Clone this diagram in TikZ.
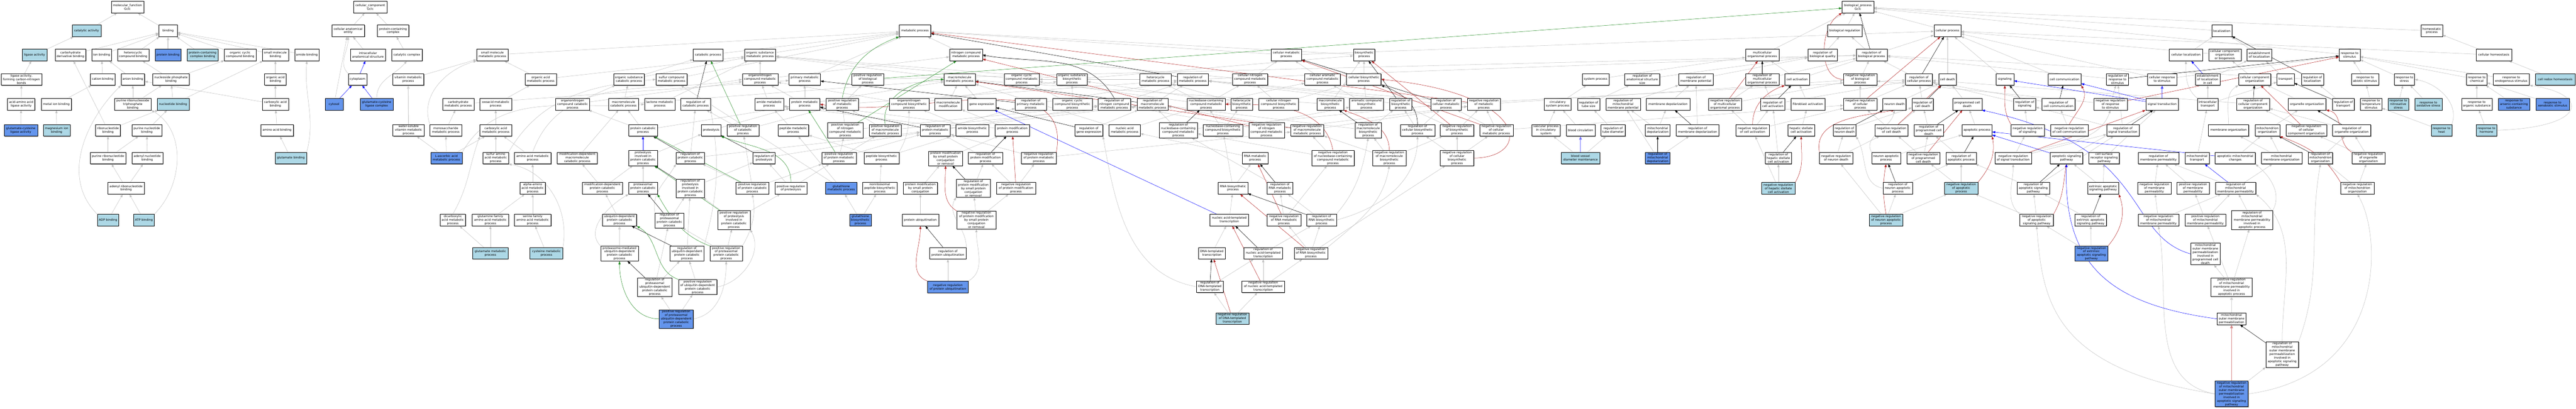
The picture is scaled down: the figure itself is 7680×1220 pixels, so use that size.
\documentclass[tikz,border=0pt]{standalone}
\usepackage{fontspec}
\setmainfont{DejaVu Sans}
\usetikzlibrary{arrows.meta,shadows,backgrounds}
\definecolor{lblue}{HTML}{ADD8E6}
\definecolor{cblue}{HTML}{6495ED}
\definecolor{egray}{HTML}{C0C0C0}
\definecolor{egreen}{HTML}{228B22}
\definecolor{ered}{HTML}{B22222}
\definecolor{eblue}{HTML}{0000FF}
\newcommand{\gnd}[6]{\node[#1,minimum width=#5pt] (#2) at (#3,#4) {#6};}
\begin{document}
\begin{tikzpicture}[x=1pt,y=-1pt,
 nbox/.style={draw=black,line width=0.7pt,fill=white,rectangle,align=center,inner xsep=1pt,inner ysep=2pt,minimum height=35pt,font=\fontsize{9}{10.7}\selectfont,drop shadow={shadow xshift=1.4pt,shadow yshift=-1.4pt,fill=gray!80,opacity=1}},
 nlb/.style={nbox,fill=lblue},
 ncb/.style={nbox,fill=cblue},
 edg/.style={draw=egray,line width=0.8pt,-{Triangle[length=9pt,width=6.5pt]}},
 edb/.style={draw=black,line width=0.8pt,-{Triangle[length=9pt,width=6.5pt]}},
 edgn/.style={draw=egreen,line width=0.8pt,-{Triangle[length=9pt,width=6.5pt]}},
 edr/.style={draw=ered,line width=0.8pt,-{Triangle[length=9pt,width=6.5pt]}},
 edu/.style={draw=eblue,line width=0.8pt,-{Triangle[length=9pt,width=6.5pt]}},
 edt/.style={draw=gray!35,line width=2.2pt,-{Triangle[length=10pt,width=8pt]}}]
\useasboundingbox (0,0) rectangle (7680,1220);
% ---------- molecular function
\gnd{nbox}{mf}{380}{21}{97}{molecular\_function\\Gclc}
\gnd{nlb}{catact}{258}{92}{86}{catalytic activity}
\gnd{nbox}{binding}{501}{92}{54}{binding}
\gnd{nlb}{ligase}{103}{164}{73}{ligase activity}
\gnd{nbox}{carbder}{210}{164}{92}{carbohydrate\\derivative binding}
\gnd{nbox}{ionb}{303}{164}{59}{ion binding}
\gnd{nbox}{hetcyc}{397}{164}{94}{heterocyclic\\compound binding}
\gnd{ncb}{protb}{501}{164}{78}{protein binding}
\gnd{nlb}{pccb}{604}{164}{93}{protein-containing\\complex binding}
\gnd{nbox}{orgcyc}{716}{164}{94}{organic cyclic\\compound binding}
\gnd{nbox}{smallmolb}{821}{164}{79}{small molecule\\binding}
\gnd{nbox}{amideb}{915}{164}{73}{amide binding}
\gnd{nbox}{ligcn}{64}{237}{122}{ligase activity,\\forming carbon-nitrogen\\bonds}
\gnd{nbox}{cationb}{306}{237}{73}{cation binding}
\gnd{nbox}{anionb}{396}{237}{70}{anion binding}
\gnd{nbox}{nucphos}{510}{237}{109}{nucleoside phosphate\\binding}
\gnd{nbox}{orgacidb}{821}{237}{64}{organic acid\\binding}
\gnd{nbox}{aaligase}{63}{311}{82}{acid-amino acid\\ligase activity}
\gnd{nbox}{metalion}{168}{311}{90}{metal ion binding}
\gnd{nbox}{purtri}{396}{311}{109}{purine ribonucleoside\\triphosphate\\binding}
\gnd{nlb}{nucb}{516}{311}{95}{nucleotide binding}
\gnd{nbox}{carboxb}{821}{311}{78}{carboxylic acid\\binding}
\gnd{ncb}{gcl}{62}{389}{100}{glutamate-cysteine\\ligase activity}
\gnd{nlb}{mgion}{169}{389}{80}{magnesium ion\\binding}
\gnd{nbox}{ribonucb}{322}{389}{74}{ribonucleotide\\binding}
\gnd{nbox}{purnucb}{438}{389}{88}{purine nucleotide\\binding}
\gnd{nbox}{aab}{826}{389}{98}{amino acid binding}
\gnd{nbox}{purribonuc}{322}{472}{107}{purine ribonucleotide\\binding}
\gnd{nbox}{adenylnuc}{439}{472}{92}{adenyl nucleotide\\binding}
\gnd{nlb}{glub}{867}{472}{94}{glutamate binding}
\gnd{nbox}{adenylribo}{376}{562}{109}{adenyl ribonucleotide\\binding}
\gnd{nlb}{adp}{322}{657}{64}{ADP binding}
\gnd{nlb}{atp}{429}{657}{62}{ATP binding}
% ---------- cellular component
\gnd{nbox}{cc}{1104}{21}{100}{cellular\_component\\Gclc}
\gnd{nbox}{cae}{1038}{92}{98}{cellular anatomical\\entity}
\gnd{nbox}{pcc}{1172}{92}{94}{protein-containing\\complex}
\gnd{nbox}{ias}{1097}{164}{105}{intracellular\\anatomical structure}
\gnd{nbox}{catcomplex}{1213}{164}{92}{catalytic complex}
\gnd{nbox}{cytoplasm}{1066}{237}{56}{cytoplasm}
\gnd{ncb}{cytosol}{996}{311}{54}{cytosol}
\gnd{ncb}{gclcomplex}{1123}{311}{99}{glutamate-cysteine\\ligase complex}
% ---------- biological process
\gnd{nbox}{vitmet}{1217}{237}{93}{vitamin metabolic\\process}
\gnd{nbox}{wsvit}{1218}{389}{93}{water-soluble\\vitamin metabolic\\process}
\gnd{nbox}{smp}{1468}{164}{94}{small molecule\\metabolic process}
\gnd{nbox}{orgacidmp}{1612}{237}{94}{organic acid\\metabolic process}
\gnd{nbox}{orgsubcat}{1875}{237}{92}{organic substance\\catabolic process}
\gnd{nbox}{carbmp}{1366}{311}{94}{carbohydrate\\metabolic process}
\gnd{nbox}{oxoacid}{1478}{311}{94}{oxoacid metabolic\\process}
\gnd{nbox}{orgnitcat}{1707}{311}{102}{organonitrogen\\compound catabolic\\process}
\gnd{nbox}{macrocat}{1859}{311}{88}{macromolecule\\catabolic process}
\gnd{nbox}{monosacch}{1329}{389}{94}{monosaccharide\\metabolic process}
\gnd{nbox}{carboxmp}{1478}{389}{94}{carboxylic acid\\metabolic process}
\gnd{nbox}{protcat}{1917}{389}{86}{protein catabolic\\process}
\gnd{ncb}{ascorbic}{1331}{472}{94}{L-ascorbic acid\\metabolic process}
\gnd{nbox}{sulfuraa}{1478}{472}{76}{sulfur amino\\acid metabolic\\process}
\gnd{nbox}{aamp}{1588}{472}{110}{amino acid metabolic\\process}
\gnd{nbox}{moddepmacro}{1721}{472}{120}{modification-dependent\\macromolecule\\catabolic process}
\gnd{nbox}{proteolysisinv}{1917}{472}{85}{proteolysis\\involved in\\protein catabolic\\process}
\gnd{nbox}{alphaaa}{1588}{562}{76}{alpha-amino\\acid metabolic\\process}
\gnd{nbox}{moddepprot}{1796}{562}{120}{modification-dependent\\protein catabolic\\process}
\gnd{nbox}{proteasomal}{1917}{562}{85}{proteasomal\\protein catabolic\\process}
\gnd{nbox}{dicarbox}{1350}{657}{76}{dicarboxylic\\acid metabolic\\process}
\gnd{nbox}{glnfam}{1462}{657}{109}{glutamine family\\amino acid metabolic\\process}
\gnd{nbox}{serfam}{1588}{657}{110}{serine family\\amino acid metabolic\\process}
\gnd{nbox}{ubiqdep}{1847}{657}{102}{ubiquitin-dependent\\protein catabolic\\process}
\gnd{nlb}{glump}{1462}{756}{106}{glutamate metabolic\\process}
\gnd{nlb}{cysmp}{1629}{756}{98}{cysteine metabolic\\process}
\gnd{nbox}{proteasomeubiq}{1847}{757}{112}{proteasome-mediated\\ubiquitin-dependent\\protein catabolic\\process}
\gnd{nbox}{regproteasomalubiq}{1952}{857}{103}{regulation of\\proteasomal\\ubiquitin-dependent\\protein catabolic\\process}
\gnd{nbox}{catproc}{2111}{164}{88}{catabolic process}
\gnd{nbox}{orgsubmp}{2266}{164}{93}{organic substance\\metabolic process}
\gnd{nbox}{sulfurcomp}{2002}{237}{93}{sulfur compound\\metabolic process}
\gnd{nbox}{orgnitmp}{2266}{237}{106}{organonitrogen\\compound metabolic\\process}
\gnd{nbox}{primmp}{2399}{237}{94}{primary metabolic\\process}
\gnd{nbox}{posregbioproc}{2587}{237}{95}{positive regulation\\of biological\\process}
\gnd{nbox}{lactone}{1967}{311}{91}{lactone metabolic\\process}
\gnd{nbox}{regcat}{2074}{311}{89}{regulation of\\catabolic process}
\gnd{nbox}{amidemp}{2293}{311}{86}{amide metabolic\\process}
\gnd{nbox}{protmp}{2399}{311}{90}{protein metabolic\\process}
\gnd{nbox}{posregmp}{2511}{311}{96}{positive regulation\\of metabolic\\process}
\gnd{nbox}{proteolysis}{2120}{389}{58}{proteolysis}
\gnd{nbox}{posregcat}{2215}{389}{96}{positive regulation\\of catabolic\\process}
\gnd{nbox}{peptidemp}{2365}{389}{92}{peptide metabolic\\process}
\gnd{nbox}{posregnitro}{2520}{389}{106}{positive regulation\\of nitrogen\\compound metabolic\\process}
\gnd{nbox}{regprotcat}{2058}{472}{85}{regulation of\\protein catabolic\\process}
\gnd{nbox}{regproteolysis}{2278}{472}{66}{regulation of\\proteolysis}
\gnd{nbox}{posregprotmp}{2501}{472}{103}{positive regulation\\of protein metabolic\\process}
\gnd{nbox}{regproteolysisinv}{2058}{562}{85}{regulation of\\proteolysis\\involved in\\protein catabolic\\process}
\gnd{nbox}{posregprotcat}{2243}{562}{98}{positive regulation\\of protein catabolic\\process}
\gnd{nbox}{posregproteolysis}{2358}{562}{96}{positive regulation\\of proteolysis}
\gnd{ncb}{glutathmp}{2508}{562}{93}{glutathione\\metabolic process}
\gnd{nbox}{regproteasomal}{1996}{658}{86}{regulation of\\proteasomal\\protein catabolic\\process}
\gnd{nbox}{posregproteolysisinv}{2188}{657}{96}{positive regulation\\of proteolysis\\involved in\\protein catabolic\\process}
\gnd{ncb}{glutathbio}{2565}{657}{64}{glutathione\\biosynthetic\\process}
\gnd{nbox}{regubiq}{2048}{757}{102}{regulation of\\ubiquitin-dependent\\protein catabolic\\process}
\gnd{nbox}{posregproteasomal}{2165}{757}{96}{positive regulation\\of proteasomal\\protein catabolic\\process}
\gnd{nbox}{posregubiq}{2080}{857}{115}{positive regulation\\of ubiquitin-dependent\\protein catabolic\\process}
\gnd{ncb}{posregproteasomalubiq}{2016}{952}{102}{positive regulation\\of proteasomal\\ubiquitin-dependent\\protein catabolic\\process}
\gnd{nbox}{metproc}{2728}{92}{94}{metabolic process}
\gnd{nbox}{nitcomp}{2880}{164}{98}{nitrogen compound\\metabolic process}
\gnd{nbox}{macromp}{2861}{237}{93}{macromolecule\\metabolic process}
\gnd{nbox}{orgcycmp}{3046}{237}{105}{organic cyclic\\compound metabolic\\process}
\gnd{nbox}{orgsubbio}{3196}{237}{91}{organic substance\\biosynthetic\\process}
\gnd{nbox}{orgnitbio}{2710}{311}{118}{organonitrogen\\compound biosynthetic\\process}
\gnd{nbox}{macromod}{2827}{311}{80}{macromolecule\\modification}
\gnd{nbox}{geneexp}{2927}{311}{84}{gene expression}
\gnd{nbox}{regprimmp}{3073}{311}{93}{regulation of\\primary metabolic\\process}
\gnd{nbox}{orgcycbio}{3197}{311}{118}{organic cyclic\\compound biosynthetic\\process}
\gnd{nbox}{posregmacro}{2639}{389}{95}{positive regulation\\of macromolecule\\metabolic process}
\gnd{nbox}{regprotmp}{2788}{389}{90}{regulation of\\protein metabolic\\process}
\gnd{nbox}{amidebio}{2899}{389}{98}{amide biosynthetic\\process}
\gnd{nbox}{protmod}{3018}{389}{102}{protein modification\\process}
\gnd{nbox}{peptidebio}{2628}{472}{104}{peptide biosynthetic\\process}
\gnd{nbox}{protmodsmall}{2819}{473}{102}{protein modification\\by small protein\\conjugation\\or removal}
\gnd{nbox}{regprotmod}{2938}{472}{102}{regulation of\\protein modification\\process}
\gnd{nbox}{negregprotmp}{3097}{472}{104}{negative regulation\\of protein metabolic\\process}
\gnd{nbox}{nonribo}{2623}{562}{104}{nonribosomal\\peptide biosynthetic\\process}
\gnd{nbox}{protmodsmallconj}{2744}{562}{102}{protein modification\\by small protein\\conjugation}
\gnd{nbox}{regprotmodsmall}{2902}{562}{102}{regulation of\\protein modification\\by small protein\\conjugation\\or removal}
\gnd{nbox}{negregprotmod}{3029}{562}{116}{negative regulation\\of protein modification\\process}
\gnd{nbox}{protubiq}{2744}{657}{109}{protein ubiquitination}
\gnd{nbox}{negregprotmodsmall}{2911}{657}{116}{negative regulation\\of protein modification\\by small protein\\conjugation\\or removal}
\gnd{nbox}{regprotubiq}{2826}{756}{109}{regulation of\\protein ubiquitination}
\gnd{ncb}{negregprotubiq}{2826}{857}{121}{negative regulation\\of protein ubiquitination}
\gnd{nbox}{cellmp}{3835}{164}{91}{cellular metabolic\\process}
\gnd{nbox}{heteromp}{3445}{237}{93}{heterocycle\\metabolic process}
\gnd{nbox}{regmp}{3556}{237}{93}{regulation of\\metabolic process}
\gnd{nbox}{cellnitmp}{3727}{237}{105}{cellular nitrogen\\compound metabolic\\process}
\gnd{nbox}{regnitmp}{3322}{311}{98}{regulation of\\nitrogen compound\\metabolic process}
\gnd{nbox}{regmacromp}{3436}{311}{93}{regulation of\\macromolecule\\metabolic process}
\gnd{nbox}{nucleobasemp}{3596}{311}{113}{nucleobase-containing\\compound metabolic\\process}
\gnd{nbox}{heterobio}{3702}{311}{64}{heterocycle\\biosynthetic\\process}
\gnd{nbox}{cellnitbio}{3812}{311}{118}{cellular nitrogen\\compound biosynthetic\\process}
\gnd{nbox}{reggeneexp}{3246}{389}{84}{regulation of\\gene expression}
\gnd{nbox}{nucacidmp}{3353}{389}{93}{nucleic acid\\metabolic process}
\gnd{nbox}{regnucleobase}{3513}{389}{113}{regulation of\\nucleobase-containing\\compound metabolic\\process}
\gnd{nbox}{nucleobasebio}{3646}{389}{118}{nucleobase-containing\\compound biosynthetic\\process}
\gnd{nbox}{negregnit}{3776}{389}{106}{negative regulation\\of nitrogen\\compound metabolic\\process}
\gnd{nbox}{rnamp}{3742}{472}{76}{RNA metabolic\\process}
\gnd{nbox}{rnabio}{3676}{562}{88}{RNA biosynthetic\\process}
\gnd{nbox}{regrnamp}{3816}{562}{76}{regulation of\\RNA metabolic\\process}
\gnd{nbox}{nucacidtrans}{3665}{657}{115}{nucleic acid-templated\\transcription}
\gnd{nbox}{negregrnamp}{3828}{657}{100}{negative regulation\\of RNA metabolic\\process}
\gnd{nbox}{dnatrans}{3613}{756}{79}{DNA-templated\\transcription}
\gnd{nbox}{regnucacidtrans}{3766}{756}{115}{regulation of\\nucleic acid-templated\\transcription}
\gnd{nbox}{regdnatrans}{3607}{856}{79}{regulation of\\DNA-templated\\transcription}
\gnd{nbox}{negregnucacidtrans}{3766}{856}{127}{negative regulation\\of nucleic acid-templated\\transcription}
\gnd{nlb}{negregdnatrans}{3674}{951}{99}{negative regulation\\of DNA-templated\\transcription}
\gnd{nbox}{bioproc}{4067}{164}{64}{biosynthetic\\process}
\gnd{nbox}{cellaromatic}{3943}{237}{106}{cellular aromatic\\compound metabolic\\process}
\gnd{nbox}{cellbio}{4066}{237}{103}{cellular biosynthetic\\process}
\gnd{nbox}{macrobio}{3966}{311}{79}{macromolecule\\biosynthetic\\process}
\gnd{nbox}{aromaticbio}{4074}{311}{101}{aromatic compound\\biosynthetic\\process}
\gnd{nbox}{regbio}{4176}{311}{66}{regulation of\\biosynthetic\\process}
\gnd{nbox}{regcellmp}{4311}{311}{91}{regulation of\\cellular metabolic\\process}
\gnd{nbox}{negregmp}{4424}{311}{99}{negative regulation\\of metabolic\\process}
\gnd{nbox}{negregmacromp}{3897}{389}{99}{negative regulation\\of macromolecule\\metabolic process}
\gnd{nbox}{regmacrobio}{4079}{389}{79}{regulation of\\macromolecule\\biosynthetic\\process}
\gnd{nbox}{regcellbio}{4226}{389}{103}{regulation of\\cellular biosynthetic\\process}
\gnd{nbox}{negregbio}{4344}{389}{100}{negative regulation\\of biosynthetic\\process}
\gnd{nbox}{negregcellmp}{4461}{389}{100}{negative regulation\\of cellular\\metabolic process}
\gnd{nbox}{negregnucleobase}{3974}{472}{127}{negative regulation\\of nucleobase-containing\\compound metabolic\\process}
\gnd{nbox}{negregmacrobio}{4142}{472}{99}{negative regulation\\of macromolecule\\biosynthetic\\process}
\gnd{nbox}{negregcellbio}{4344}{472}{100}{negative regulation\\of cellular\\biosynthetic\\process}
\gnd{nbox}{regrnabio}{3940}{657}{88}{regulation of\\RNA biosynthetic\\process}
\gnd{nbox}{negregrnabio}{3908}{756}{100}{negative regulation\\of RNA biosynthetic\\process}
\gnd{nbox}{sysproc}{4757}{237}{80}{system process}
\gnd{nbox}{reganatsize}{4896}{237}{105}{regulation of\\anatomical structure\\size}
\gnd{nbox}{regmembpot}{5056}{237}{103}{regulation of\\membrane potential}
\gnd{nbox}{circsys}{4644}{311}{80}{circulatory\\system process}
\gnd{nbox}{regtubesize}{4736}{311}{66}{regulation of\\tube size}
\gnd{nbox}{regmitomembpot}{4839}{311}{103}{regulation of\\mitochondrial\\membrane potential}
\gnd{nbox}{membdepol}{4973}{311}{130}{membrane depolarization}
\gnd{nbox}{negregmulti}{5143}{311}{99}{negative regulation\\of multicellular\\organismal process}
\gnd{nbox}{vascular}{4609}{389}{85}{vascular process\\in circulatory\\system}
\gnd{nbox}{bloodcirc}{4712}{389}{86}{blood circulation}
\gnd{nbox}{regtubediam}{4809}{389}{73}{regulation of\\tube diameter}
\gnd{nbox}{mitodepol}{4942}{389}{74}{mitochondrial\\depolarization}
\gnd{nbox}{regmembdepol}{5061}{389}{127}{regulation of\\membrane depolarization}
\gnd{nlb}{bvdm}{4712}{472}{115}{blood vessel\\diameter maintenance}
\gnd{ncb}{regmitodepol}{4942}{472}{74}{regulation of\\mitochondrial\\depolarization}
\gnd{nbox}{bp}{5539}{21}{94}{biological\_process\\Gclc}
\gnd{nbox}{bioreg}{5500}{92}{103}{biological regulation}
\gnd{nbox}{multiorg}{5254}{164}{100}{multicellular\\organismal process}
\gnd{nbox}{regbioqual}{5434}{164}{88}{regulation of\\biological quality}
\gnd{nbox}{regbioproc}{5580}{164}{92}{regulation of\\biological process}
\gnd{nbox}{regmulti}{5254}{237}{100}{regulation of\\multicellular\\organismal process}
\gnd{nbox}{cellact}{5358}{237}{73}{cell activation}
\gnd{nbox}{negregbioproc}{5546}{237}{100}{negative regulation\\of biological\\process}
\gnd{nbox}{regcellproc}{5721}{237}{80}{regulation of\\cellular process}
\gnd{nbox}{regcellact}{5285}{311}{73}{regulation of\\cell activation}
\gnd{nbox}{fibroact}{5390}{311}{101}{fibroblast activation}
\gnd{nbox}{negregcellproc}{5546}{311}{100}{negative regulation\\of cellular\\process}
\gnd{nbox}{neurondeath}{5648}{311}{69}{neuron death}
\gnd{nbox}{regcelldeath}{5732}{311}{64}{regulation of\\cell death}
\gnd{nbox}{negregcellact}{5225}{389}{99}{negative regulation\\of cell activation}
\gnd{nbox}{hsc}{5370}{389}{79}{hepatic stellate\\cell activation}
\gnd{nbox}{regneurondeath}{5499}{389}{68}{regulation of\\neuron death}
\gnd{nbox}{negregcelldeath}{5639}{389}{99}{negative regulation\\of cell death}
\gnd{nbox}{regpcd}{5750}{389}{87}{regulation of\\programmed cell\\death}
\gnd{nbox}{reghsc}{5302}{472}{79}{regulation of\\hepatic stellate\\cell activation}
\gnd{nbox}{negregneurondeath}{5474}{472}{99}{negative regulation\\of neuron death}
\gnd{nbox}{neuronapop}{5623}{472}{86}{neuron apoptotic\\process}
\gnd{nbox}{negregpcd}{5734}{472}{99}{negative regulation\\of programmed\\cell death}
\gnd{nlb}{negreghsc}{5302}{562}{100}{negative regulation\\of hepatic stellate\\cell activation}
\gnd{nbox}{regneuronapop}{5658}{562}{87}{regulation of\\neuron apoptotic\\process}
\gnd{nlb}{negregneuronapop}{5623}{657}{99}{negative regulation\\of neuron apoptotic\\process}
\gnd{nbox}{cellproc}{5806}{92}{80}{cellular process}
\gnd{nbox}{celldeath}{5806}{237}{53}{cell death}
\gnd{nbox}{signaling}{5977}{237}{54}{signaling}
\gnd{nbox}{cellcomm}{6155}{237}{99}{cell communication}
\gnd{nbox}{regresp}{6313}{237}{66}{regulation of\\response to\\stimulus}
\gnd{nbox}{pcd}{5865}{311}{87}{programmed cell\\death}
\gnd{nbox}{regsignaling}{6036}{311}{66}{regulation of\\signaling}
\gnd{nbox}{regcellcomm}{6137}{311}{99}{regulation of\\cell communication}
\gnd{nbox}{negregresp}{6292}{311}{100}{negative regulation\\of response\\to stimulus}
\gnd{nbox}{signaltrans}{6446}{311}{98}{signal transduction}
\gnd{nbox}{apop}{5894}{389}{90}{apoptotic process}
\gnd{nbox}{negregsignaling}{6045}{389}{99}{negative regulation\\of signaling}
\gnd{nbox}{negregcellcomm}{6169}{389}{112}{negative regulation\\of cell communication}
\gnd{nbox}{regsignaltrans}{6329}{389}{97}{regulation of\\signal transduction}
\gnd{nbox}{regapop}{5847}{472}{91}{regulation of\\apoptotic process}
\gnd{nbox}{negregsignaltrans}{6002}{472}{109}{negative regulation\\of signal transduction}
\gnd{nbox}{apopsig}{6161}{472}{97}{apoptotic signaling\\pathway}
\gnd{nbox}{cellsurface}{6273}{472}{91}{cell surface\\receptor signaling\\pathway}
\gnd{nbox}{regmembperm}{6435}{472}{122}{regulation of\\membrane permeability}
\gnd{nlb}{negregapop}{5847}{562}{99}{negative regulation\\of apoptotic\\process}
\gnd{nbox}{regapopsig}{6062}{562}{97}{regulation of\\apoptotic signaling\\pathway}
\gnd{nbox}{extapop}{6270}{562}{93}{extrinsic apoptotic\\signaling pathway}
\gnd{nbox}{negregmembperm}{6423}{562}{100}{negative regulation\\of membrane\\permeability}
\gnd{nbox}{negregapopsig}{6072}{657}{100}{negative regulation\\of apoptotic\\signaling pathway}
\gnd{nbox}{regextapop}{6233}{657}{94}{regulation of\\extrinsic apoptotic\\signaling pathway}
\gnd{nbox}{negregmitomembperm}{6435}{657}{122}{negative regulation\\of mitochondrial\\membrane permeability}
\gnd{ncb}{negregextapop}{6235}{757}{99}{negative regulation\\of extrinsic\\apoptotic signaling\\pathway}
\gnd{nbox}{localization}{6624}{92}{60}{localization}
\gnd{nbox}{cellloc}{6517}{164}{100}{cellular localization}
\gnd{nbox}{ccob}{6633}{164}{97}{cellular component\\organization\\or biogenesis}
\gnd{nbox}{estloc}{6736}{164}{73}{establishment\\of localization}
\gnd{nbox}{respstim}{7005}{164}{62}{response to\\stimulus}
\gnd{nbox}{cellresp}{6446}{237}{87}{cellular response\\to stimulus}
\gnd{nbox}{estlocincell}{6582}{237}{73}{establishment\\of localization\\in cell}
\gnd{nbox}{cco}{6722}{237}{96}{cellular component\\organization}
\gnd{nbox}{transport}{6814}{237}{51}{transport}
\gnd{nbox}{regloc}{6894}{237}{66}{regulation of\\localization}
\gnd{nbox}{respabiotic}{7051}{237}{82}{response to\\abiotic stimulus}
\gnd{nbox}{intratrans}{6582}{311}{62}{intracellular\\transport}
\gnd{nbox}{regcco}{6717}{311}{98}{regulation of\\cellular component\\organization}
\gnd{nbox}{organelle}{6878}{311}{113}{organelle organization}
\gnd{nbox}{regtransport}{6986}{311}{66}{regulation of\\transport}
\gnd{nbox}{resptemp}{7069}{311}{64}{response to\\temperature\\stimulus}
\gnd{nbox}{membraneorg}{6644}{389}{120}{membrane organization}
\gnd{nbox}{mitoorg}{6760}{389}{73}{mitochondrion\\organization}
\gnd{nbox}{negregcco}{6876}{389}{122}{negative regulation\\of cellular\\component organization}
\gnd{nbox}{regorganelle}{7011}{389}{114}{regulation of\\organelle organization}
\gnd{nbox}{mitotransport}{6550}{472}{72}{mitochondrial\\transport}
\gnd{nbox}{apopmito}{6664}{472}{120}{apoptotic mitochondrial\\changes}
\gnd{nbox}{mitomembrane}{6802}{472}{121}{mitochondrial\\membrane organization}
\gnd{nbox}{regmitoorg}{6918}{472}{73}{regulation of\\mitochondrion\\organization}
\gnd{nbox}{negregorganelle}{7061}{472}{99}{negative regulation\\of organelle\\organization}
\gnd{nbox}{posregmembperm}{6538}{562}{96}{positive regulation\\of membrane\\permeability}
\gnd{nbox}{regmitomembperm}{6665}{562}{121}{regulation of\\mitochondrial\\membrane permeability}
\gnd{nbox}{negregmitoorg}{7028}{562}{100}{negative regulation\\of mitochondrion\\organization}
\gnd{nbox}{posregmitomembperm}{6575}{657}{121}{positive regulation\\of mitochondrial\\membrane permeability}
\gnd{nbox}{regmitomembpermapop}{6714}{657}{122}{regulation of\\mitochondrial\\membrane permeability\\involved in\\apoptotic process}
\gnd{nbox}{mompcd}{6575}{758}{88}{mitochondrial\\outer membrane\\permeabilization\\involved in\\programmed cell\\death}
\gnd{nbox}{posregmitomembpermapop}{6653}{857}{122}{positive regulation\\of mitochondrial\\membrane permeability\\involved in\\apoptotic process}
\gnd{nbox}{momp}{6653}{952}{86}{mitochondrial\\outer membrane\\permeabilization}
\gnd{nbox}{regmomp}{6804}{1058}{98}{regulation of\\mitochondrial\\outer membrane\\permeabilization\\involved in\\apoptotic signaling\\pathway}
\gnd{ncb}{negregmomp}{6653}{1176}{99}{negative regulation\\of mitochondrial\\outer membrane\\permeabilization\\involved in\\apoptotic signaling\\pathway}
\gnd{nbox}{homeo}{7250}{92}{64}{homeostatic\\process}
\gnd{nbox}{cellhomeo}{7435}{164}{106}{cellular homeostasis}
\gnd{nbox}{respstress}{7168}{237}{61}{response to\\stress}
\gnd{nbox}{respchem}{7384}{237}{61}{response to\\chemical}
\gnd{nbox}{respendo}{7487}{237}{108}{response to\\endogenous stimulus}
\gnd{nlb}{redox}{7618}{237}{117}{cell redox homeostasis}
\gnd{nlb}{respnitro}{7150}{311}{61}{response to\\nitrosative\\stress}
\gnd{nlb}{respox}{7240}{311}{82}{response to\\oxidative stress}
\gnd{nbox}{resporg}{7384}{311}{91}{response to\\organic substance}
\gnd{ncb}{resparsenic}{7495}{311}{94}{response to\\arsenic-containing\\substance}
\gnd{ncb}{respxeno}{7610}{311}{100}{response to\\xenobiotic stimulus}
\gnd{nlb}{respheat}{7279}{389}{61}{response to\\heat}
\gnd{nlb}{resphormone}{7413}{389}{62}{response to\\hormone}
% ================= edges
\begin{pgfonlayer}{background}
\fill[white] (0,0) rectangle (7680,1220);
\foreach \a/\b in {catact/mf, binding/mf, ligase/catact, carbder/binding, ionb/binding, hetcyc/binding, pccb/binding, orgcyc/binding, smallmolb/binding, amideb/binding, ligcn/ligase, cationb/ionb, anionb/ionb, nucphos/hetcyc, nucphos/orgcyc, nucb/nucphos, nucb/smallmolb, aaligase/ligcn, metalion/cationb, purtri/anionb, purtri/nucphos, gcl/aaligase, mgion/metalion, ribonucb/carbder, ribonucb/nucb, purnucb/nucb, purribonuc/ribonucb, purribonuc/purnucb, adenylnuc/purnucb, adenylribo/purribonuc, adenylribo/adenylnuc, adp/adenylribo, atp/adenylribo, carboxb/anionb, orgacidb/smallmolb, carboxb/orgacidb, aab/carboxb, glub/aab,
cae/cc, pcc/cc, ias/cae, catcomplex/pcc, cytosol/cae,
vitmet/smp, ascorbic/wsvit, smp/metproc, orgacidmp/smp, carbmp/primmp, oxoacid/orgacidmp, carboxmp/oxoacid, monosacch/carbmp, ascorbic/monosacch, ascorbic/carboxmp, sulfuraa/carboxmp, aamp/carboxmp, alphaaa/aamp, glnfam/alphaaa, serfam/alphaaa, glump/dicarbox, glump/glnfam, cysmp/serfam, orgnitcat/orgsubcat, orgnitcat/orgnitmp, macrocat/orgsubcat, macrocat/macromp, moddepmacro/macrocat, moddepprot/moddepmacro, moddepprot/proteolysisinv, protcat/macrocat, protcat/orgnitcat, protcat/protmp, proteolysisinv/proteolysis, proteasomal/proteolysisinv, ubiqdep/moddepprot, orgsubcat/catproc, orgsubcat/orgsubmp, sulfurcomp/metproc, lactone/orgsubmp, orgacidmp/orgsubmp,
catproc/metproc, orgsubmp/metproc, primmp/metproc, nitcomp/metproc, bioproc/metproc, cellmp/metproc, orgnitmp/orgsubmp, orgnitmp/nitcomp, protmp/primmp, protmp/orgnitmp, protmp/macromp, amidemp/orgnitmp, peptidemp/amidemp, proteolysis/protmp, posregcat/regcat, posregcat/posregmp, posregbioproc/regbioproc, posregmp/regmp, posregmp/posregbioproc, posregnitro/posregmp, posregnitro/regnitmp, posregprotmp/regprotmp, posregprotmp/posregmacro, posregprotmp/posregnitro, posregmacro/posregmp, posregmacro/regmacromp, regproteolysis/regprotmp, posregproteolysis/regproteolysis, posregproteolysis/posregprotmp, regprotcat/regcat, regprotcat/regprotmp, posregprotcat/posregcat, posregprotcat/regprotcat, posregprotcat/posregprotmp, regproteolysisinv/regproteolysis, posregproteolysisinv/regproteolysisinv, posregproteolysisinv/posregproteolysis, regproteasomal/regproteolysisinv, posregproteasomal/regproteasomal, posregproteasomal/posregproteolysisinv, regubiq/regproteolysisinv, regproteasomalubiq/regproteasomal, regproteasomalubiq/regubiq, posregubiq/regubiq, posregproteasomalubiq/regproteasomalubiq, posregproteasomalubiq/posregubiq, glutathbio/glutathmp, glutathbio/nonribo, glutathmp/peptidemp, glutathmp/sulfurcomp,
macromp/orgsubmp, orgcycmp/orgsubmp, orgsubbio/orgsubmp, orgsubbio/bioproc, orgnitbio/orgnitmp, orgnitbio/orgsubbio, macromod/macromp, geneexp/macromp, regprimmp/regmp, amidebio/amidemp, amidebio/orgnitbio, protmod/macromod, protmod/protmp, peptidebio/peptidemp, peptidebio/amidebio, protmodsmall/protmod, regprotmod/regprotmp, negregprotmp/regprotmp, negregprotmp/negregmacromp, regprotmp/regmacromp, regprotmp/regprimmp, regprotmp/regnitmp, nonribo/peptidebio, protmodsmallconj/protmodsmall, regprotmodsmall/regprotmod, negregprotmod/regprotmod, negregprotmod/negregprotmp, protubiq/protmodsmallconj, negregprotmodsmall/regprotmodsmall, negregprotmodsmall/negregprotmod, negregprotubiq/regprotubiq,
cellmp/cellproc, heteromp/orgcycmp, cellnitmp/nitcomp, cellnitmp/cellmp, regmp/regbioproc, regnitmp/regmp, regmacromp/regmp, nucleobasemp/heteromp, nucleobasemp/cellnitmp, nucleobasemp/cellaromatic, nucleobasemp/orgcycmp, heterobio/heteromp, heterobio/orgsubbio, cellnitbio/cellnitmp, cellnitbio/cellbio, orgcycbio/orgcycmp, orgcycbio/orgsubbio, reggeneexp/regmacromp, nucacidmp/nucleobasemp, nucacidmp/macromp, regnucleobase/regcellmp, regnucleobase/regmacromp, nucleobasebio/nucleobasemp, nucleobasebio/heterobio, nucleobasebio/aromaticbio, negregnit/regnitmp, negregnit/negregmp, rnamp/nucacidmp, rnabio/rnamp, rnabio/nucleobasebio, regrnamp/regnucleobase, negregrnamp/regrnamp, negregrnamp/negregnucleobase, nucacidtrans/rnabio, dnatrans/nucacidtrans, regnucacidtrans/regrnabio, regdnatrans/regnucacidtrans, negregnucacidtrans/regnucacidtrans, negregnucacidtrans/negregrnabio, negregdnatrans/regdnatrans, negregdnatrans/negregnucacidtrans,
cellbio/bioproc, cellbio/cellmp, cellaromatic/cellmp, macrobio/bioproc, macrobio/macromp, aromaticbio/cellaromatic, aromaticbio/cellbio, regbio/regmp, regcellmp/regmp, regcellmp/regcellproc, negregmp/regmp, negregmp/negregbioproc, negregmacromp/regmacromp, negregmacromp/negregmp, regmacrobio/regbio, regmacrobio/regmacromp, regcellbio/regbio, regcellbio/regcellmp, negregbio/regbio, negregbio/negregmp, negregcellmp/regcellmp, negregcellmp/negregmp, negregcellmp/negregcellproc, negregnucleobase/regnucleobase, negregnucleobase/negregmacromp, negregmacrobio/regmacrobio, negregmacrobio/negregbio, negregmacrobio/negregmacromp, negregcellbio/negregbio, negregcellbio/regcellbio, negregcellbio/negregcellmp, regrnabio/regrnamp, negregrnabio/regrnabio, negregrnabio/negregrnamp, negregrnabio/negregcellbio,
sysproc/multiorg, reganatsize/regbioqual, regmembpot/regbioqual, circsys/sysproc, regtubesize/reganatsize, regmitomembpot/regmembpot, membdepol/regmembpot, negregmulti/regmulti, negregmulti/negregbioproc, vascular/circsys, bloodcirc/circsys, regtubediam/regtubesize, mitodepol/regmitomembpot, mitodepol/membdepol, regmembdepol/regmembpot, bvdm/vascular, bvdm/regtubediam, regmitodepol/regmitomembpot, regmitodepol/regmembdepol,
bioreg/bp, multiorg/bp, regbioqual/bioreg, regbioproc/bioreg, negregbioproc/regbioproc, regmulti/regbioproc, cellact/multiorg, cellact/cellproc, negregcellproc/negregbioproc, negregcellproc/regcellproc, regcellproc/regbioproc, neurondeath/celldeath, regcelldeath/regcellproc, regcellact/regcellproc, regcellact/regmulti, fibroact/cellact, negregcellact/regcellact, negregcellact/negregmulti, negregcellact/negregcellproc, hsc/fibroact, regneurondeath/regcelldeath, negregcelldeath/regcelldeath, negregcelldeath/negregcellproc, regpcd/regcelldeath, reghsc/regcellact, negregneurondeath/regneurondeath, negregneurondeath/negregcelldeath, neuronapop/apop, negregpcd/regpcd, negregpcd/negregcelldeath, negreghsc/reghsc, negreghsc/negregcellact, regneuronapop/regapop, negregneuronapop/regneuronapop, negregneuronapop/negregneurondeath, negregneuronapop/negregapop,
cellproc/bp, celldeath/cellproc, pcd/celldeath, apop/pcd, regapop/regpcd, negregapop/regapop, negregapop/negregpcd, signaling/cellproc, cellcomm/cellproc, regsignaling/regcellproc, regcellcomm/regcellproc, negregsignaling/regsignaling, negregcellcomm/regcellcomm, regresp/regbioproc, negregresp/regresp, negregresp/negregbioproc, regsignaltrans/regsignaling, regsignaltrans/regresp, negregsignaltrans/regsignaltrans, negregsignaltrans/negregsignaling, apopsig/signaltrans, regapopsig/regapop, regapopsig/regsignaltrans, negregapopsig/regapopsig, negregapopsig/negregapop, cellsurface/signaltrans, extapop/apopsig, extapop/cellsurface, regextapop/regapopsig, negregextapop/regextapop, negregextapop/negregapopsig,
localization/bp, cellloc/localization, estloc/localization, ccob/cellproc, cellresp/respstim, cellresp/cellproc, estlocincell/estloc, cco/ccob, transport/estloc, regloc/regbioproc, intratrans/estlocincell, intratrans/transport, regcco/regcellproc, organelle/cco, regtransport/regloc, mitoorg/organelle, negregcco/regcco, regorganelle/regcco, mitotransport/intratrans, apopmito/mitoorg, mitomembrane/membraneorg, mitomembrane/mitoorg, regmitoorg/regorganelle, negregorganelle/regorganelle, negregorganelle/negregcco, posregmembperm/regmembperm, regmitomembperm/regmembperm, regmitomembperm/mitomembrane, negregmitoorg/regmitoorg, negregmitoorg/negregorganelle, negregmembperm/regmembperm, negregmitomembperm/negregmembperm, negregmitomembperm/regmitomembperm, posregmitomembperm/posregmembperm, posregmitomembperm/regmitomembperm, regmitomembpermapop/regmitomembperm, posregmitomembpermapop/mompcd, posregmitomembpermapop/regmitomembpermapop, posregmitomembpermapop/posregmitomembperm, negregmomp/regmomp,
homeo/bp, cellhomeo/homeo, cellhomeo/cellproc, redox/cellhomeo, respstress/respstim, respchem/respstim, respendo/respstim, respabiotic/respstim, resptemp/respabiotic, respnitro/respstress, respox/respstress, respheat/resptemp, resporg/respchem, resparsenic/respchem, respxeno/respchem, resphormone/resporg, respstim/bp}
 {\draw[edg] (\a) -- (\b);}
% curved gray
\draw[edg] (adp.north west) to[out=135,in=-135] (anionb.south west);
\draw[edg] (atp.north east) to[out=45,in=-30] (purtri.south east);
\draw[edg] (glub.north east) to[out=75,in=-95] (amideb.south);
\draw[edg] (cytoplasm.north west) to[out=135,in=-90] (cae.south);
\draw[edg] (gclcomplex.north) to[out=90,in=-130] (catcomplex.south);
\draw[edg] (monosacch.north west) to[out=110,in=-165] (smp.south west);
\draw[edg] (ascorbic.north east) to[out=60,in=185] (lactone.west);
\draw[edg] (sulfuraa.north east) to[out=60,in=185] (sulfurcomp.west);
\draw[edg] (aamp.north) to[out=70,in=190] (orgnitmp.west);
\draw[edg] (dicarbox.north) to[out=60,in=-110] (carboxmp.south west);
\draw[edg] (cysmp.north east) to[out=80,in=-10] (sulfuraa.south east);
\draw[edg] (proteasomeubiq.north west) to[out=135,in=-150] (proteasomal.south west);
\draw[edg] (regproteasomal.north west) to[out=100,in=-120] (regprotcat.south west);
\draw[edg] (regubiq.north east) to[out=75,in=-80] (regcat.south east);
\draw[edg] (posregproteasomal.north east) to[out=60,in=-80] (posregprotcat.south);
\draw[edg] (posregubiq.east) to[out=10,in=-60] (posregproteolysisinv.south east);
\draw[edg] (posregproteasomalubiq.east) to[out=10,in=-90] (posregproteasomal.south);
\draw[edg] (peptidebio.north east) to[out=60,in=-90] (orgnitbio.south);
\draw[edg] (regprotubiq.north east) to[out=90,in=-120] (regprotmodsmall.south west);
\draw[edg] (negregprotubiq.north east) to[out=30,in=-90] (negregprotmodsmall.south);
\draw[edg] (regdnatrans.west) to[out=170,in=-80] (reggeneexp.south east);
\draw[edg] (regrnabio.north east) to[out=50,in=-100] (regmacrobio.south);
\draw[edg] (regrnabio.east) to[out=15,in=-90] (regcellbio.south);
\draw[edg] (negregrnabio.north east) to[out=40,in=-100] (negregmacrobio.south);
\draw[edg] (neuronapop.north west) to[out=120,in=-100] (neurondeath.south);
\draw[edg] (regneuronapop.west) to[out=170,in=-60] (regneurondeath.south east);
\draw[edg] (negregsignaltrans.north east) to[out=20,in=-110] (negregresp.south);
\draw[edg] (negregapopsig.north west) to[out=140,in=-90] (negregsignaltrans.south);
\draw[edg] (negregmomp.west) .. controls (6120,1100) and (6090,900) .. (negregapopsig.south);
\draw[edg] (regmomp.north) to[out=90,in=-40] (regmitomembperm.south east);
\draw[edg] (regmomp.north east) to[out=70,in=-100] (regmitoorg.south);
\draw[edg] (negregmomp.west) to[out=170,in=-80] (negregmitomembperm.south);
\draw[edg] (negregmomp.east) .. controls (7120,1120) and (7100,700) .. (negregmitoorg.south);
\draw[edg] (regmitomembpermapop.north east) to[out=60,in=-40] (apopmito.south east);
\draw[edg] (membraneorg.north) to[out=90,in=-150] (cco.south west);
\draw[edg] (intratrans.north west) to[out=140,in=-90] (cellloc.south);
\draw[edg] (respheat.north east) to[out=70,in=-10] (respstress.east);
\draw[edg] (resphormone.east) .. controls (7720,380) and (7720,280) .. (respendo.south east);
% thick light
\draw[edt] (protb) -- (binding);
\draw[edt] (wsvit) -- (vitmet);
\draw[edt] (proteasomeubiq) -- (ubiqdep);
\draw[edt] (momp) -- (posregmitomembpermapop);
\draw[edt,draw=ered!55] (negregmomp) -- (momp);
\draw[edt,draw=eblue!55] (bvdm) -- (bloodcirc);
\draw[edt,draw=eblue!70] (signaltrans) -- (cellresp);
% regulates (black)
\foreach \a/\b in {regcat/catproc, regproteolysis/proteolysis, regprotcat/protcat, regproteolysisinv/proteolysisinv, regproteasomal/proteasomal, regubiq/ubiqdep, regproteasomalubiq/proteasomeubiq, regprimmp/primmp, regprotmp/protmp, regprotmod/protmod, regprotmodsmall/protmodsmall, regprotubiq/protubiq, regmp/metproc, regmacromp/macromp, reggeneexp/geneexp, regnucleobase/nucleobasemp, regrnamp/rnamp, regnucacidtrans/nucacidtrans, regdnatrans/dnatrans, regrnabio/rnabio, regbio/bioproc, regcellmp/cellmp, regmacrobio/macrobio, regmembdepol/membdepol, regmitodepol/mitodepol, regbioproc/bp, regmulti/multiorg, regcellproc/cellproc, regcelldeath/celldeath, regcellact/cellact, reghsc/hsc, regneurondeath/neurondeath, regneuronapop/neuronapop, regpcd/pcd, regapop/apop, regsignaling/signaling, regcellcomm/cellcomm, regresp/respstim, regsignaltrans/signaltrans, regapopsig/apopsig, regextapop/extapop, regloc/localization, regcco/cco, regtransport/transport, regorganelle/organelle, regmitoorg/mitoorg, regmomp/momp}
 {\draw[edb] (\a) -- (\b);}
\draw[edb] (regnitmp.north) to[out=120,in=-10] (nitcomp.east);
\draw[edb] (regcellbio.north) to[out=90,in=-20] (cellbio.south east);
% positively regulates (green)
\foreach \a/\b in {posregcat/catproc, posregprotmp/protmp, posregnitro/nitcomp, posregprotcat/protcat, posregproteolysisinv/proteolysisinv, posregbioproc/bp}
 {\draw[edgn] (\a) -- (\b);}
\draw[edgn] (posregproteolysis.north) to[out=90,in=-20] (proteolysis.south east);
\draw[edgn] (posregmp.north) to[out=80,in=-160] (metproc.south west);
\draw[edgn] (posregmacro.north) to[out=100,in=180] (macromp.west);
\draw[edgn] (posregproteasomal.north west) to[out=160,in=-60] (proteasomal.south east);
\draw[edgn] (posregproteasomalubiq.west) to[out=180,in=-90] (proteasomeubiq.south);
\draw[edgn] (posregubiq.north west) to[out=160,in=-30] (ubiqdep.south east);
% negatively regulates (red)
\foreach \a/\b in {negregprotmod/protmod, negregnit/nitcomp, negregrnamp/rnamp, negregnucacidtrans/nucacidtrans, negregdnatrans/dnatrans, negregrnabio/rnabio, negregmp/metproc, negregmacromp/macromp, negregbio/bioproc, negregcellmp/cellmp, negregmulti/multiorg, negregcellproc/cellproc, negregcelldeath/celldeath, negregpcd/pcd, negregresp/respstim, negregsignaltrans/signaltrans, negregcco/cco}
 {\draw[edr] (\a) -- (\b);}
\draw[edr] (negregprotmp.north east) to[out=80,in=-10] (protmp.east);
\draw[edr] (negregprotmodsmall.north west) to[out=150,in=-90] (protmodsmall.south);
\draw[edr] (negregprotubiq.north west) to[out=160,in=-90] (protubiq.south);
\draw[edr] (negregnucleobase.north) to[out=100,in=0] (nucleobasemp.east);
\draw[edr] (negregmacrobio.north) to[out=90,in=-20] (macrobio.south east);
\draw[edr] (negregcellbio.east) .. controls (4570,470) and (4560,280) .. (cellbio.east);
\draw[edr] (negregbioproc.west) to[out=180,in=-150] (bp.south west);
\draw[edr] (negregcellact.north) to[out=90,in=-160] (cellact.south west);
\draw[edr] (negreghsc.north east) to[out=60,in=-90] (hsc.south);
\draw[edr] (negregneurondeath.north west) to[out=100,in=-170] (neurondeath.south);
\draw[edr] (negregneuronapop.north) to[out=100,in=-100] (neuronapop.south);
\draw[edr] (negregapop.north east) to[out=50,in=-80] (apop.south east);
\draw[edr] (negregsignaling.north west) to[out=120,in=-90] (signaling.south);
\draw[edr] (negregcellcomm.north) to[out=60,in=-60] (cellcomm.south east);
\draw[edr] (negregapopsig.north east) to[out=60,in=-100] (apopsig.south);
\draw[edr] (negregextapop.north east) to[out=50,in=-70] (extapop.south east);
\draw[edr] (negregorganelle.north west) to[out=150,in=-10] (organelle.south east);
\draw[edr] (negregmitoorg.north west) to[out=120,in=-20] (mitoorg.south east);
% part of (blue)
\foreach \a/\b in {cytoplasm/ias, cytosol/cytoplasm, gclcomplex/cytoplasm, proteolysisinv/protcat, nucacidtrans/geneexp, apopsig/apop, estlocincell/cellloc, regmitomembperm/mitotransport, apopmito/apop, signaltrans/signaling, signaltrans/cellcomm}
 {\draw[edu] (\a) -- (\b);}
\draw[edu] (momp.west) .. controls (6300,910) and (6150,800) .. (apopsig.south);
\draw[edu] (mompcd.west) .. controls (6330,700) and (6420,440) .. (pcd.south east);
\end{pgfonlayer}
\end{tikzpicture}
\end{document}
